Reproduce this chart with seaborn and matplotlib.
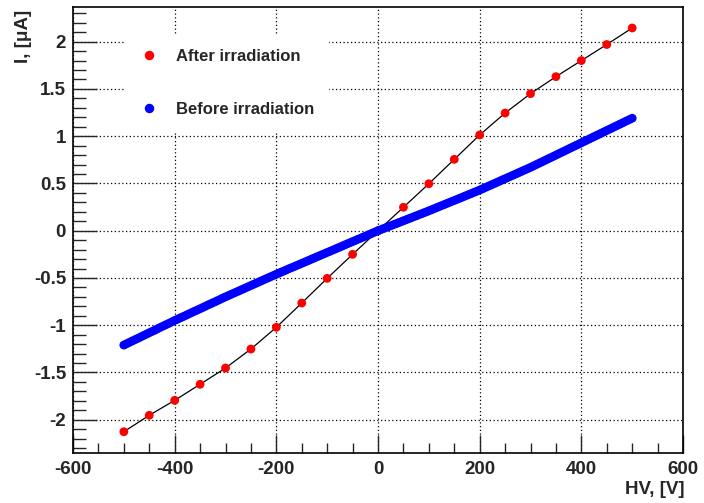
import matplotlib
matplotlib.use("Agg")
import matplotlib.pyplot as plt
import seaborn as sns
import pandas as pd
from matplotlib.lines import Line2D
from matplotlib.ticker import MultipleLocator, FuncFormatter

# ---- data ----
hv_after = [-500, -450, -400, -350, -300, -250, -200, -150, -100, -50, 0,
            50, 100, 150, 200, 250, 300, 350, 400, 450, 500]
i_after = [-2.127, -1.953, -1.795, -1.625, -1.453, -1.252, -1.022, -0.765, -0.504, -0.250, 0.0,
           0.248, 0.497, 0.755, 1.013, 1.245, 1.450, 1.630, 1.800, 1.970, 2.145]

hv_before = list(range(-500, 501, 5))
i_before = [
    -1.210, -1.197, -1.184, -1.171, -1.158, -1.145, -1.133, -1.119, -1.106, -1.093,
    -1.080, -1.067, -1.055, -1.041, -1.028, -1.015, -1.002, -0.989, -0.977, -0.963,
    -0.950, -0.938, -0.925, -0.913, -0.901, -0.888, -0.875, -0.862, -0.850, -0.838,
    -0.826, -0.813, -0.800, -0.787, -0.775, -0.763, -0.751, -0.738, -0.725, -0.712,
    -0.700, -0.688, -0.676, -0.664, -0.652, -0.640, -0.628, -0.616, -0.604, -0.592,
    -0.580, -0.568, -0.556, -0.544, -0.532, -0.520, -0.508, -0.496, -0.484, -0.472,
    -0.460, -0.449, -0.437, -0.426, -0.414, -0.402, -0.391, -0.380, -0.368, -0.357,
    -0.345, -0.334, -0.322, -0.311, -0.299, -0.288, -0.276, -0.265, -0.253, -0.242,
    -0.230, -0.219, -0.207, -0.196, -0.184, -0.173, -0.161, -0.150, -0.138, -0.127,
    -0.115, -0.104, -0.092, -0.081, -0.069, -0.058, -0.046, -0.035, -0.023, -0.012,
    0.000,
    0.010, 0.021, 0.031, 0.042, 0.052, 0.063, 0.073, 0.084, 0.094, 0.105,
    0.115, 0.126, 0.136, 0.147, 0.157, 0.168, 0.178, 0.189, 0.199, 0.210,
    0.221, 0.232, 0.243, 0.254, 0.265, 0.276, 0.287, 0.298, 0.309, 0.320,
    0.331, 0.342, 0.353, 0.364, 0.375, 0.386, 0.397, 0.408, 0.419, 0.430,
    0.442, 0.454, 0.466, 0.478, 0.490, 0.502, 0.514, 0.526, 0.538, 0.550,
    0.562, 0.574, 0.586, 0.598, 0.610, 0.622, 0.634, 0.646, 0.658, 0.670,
    0.683, 0.696, 0.709, 0.722, 0.735, 0.748, 0.761, 0.774, 0.787, 0.800,
    0.813, 0.826, 0.839, 0.852, 0.865, 0.878, 0.891, 0.904, 0.917, 0.930,
    0.943, 0.956, 0.969, 0.982, 0.995, 1.008, 1.021, 1.034, 1.047, 1.060,
    1.073, 1.086, 1.099, 1.112, 1.125, 1.138, 1.151, 1.164, 1.177, 1.190,
]

label_after = "After irradiation"
label_before = "Before irradiation"
xlabel = "HV, [V]"
ylabel = "I, [\u03bcA]"

df_after = pd.DataFrame({"hv": hv_after, "i": i_after})
df_before = pd.DataFrame({"hv": hv_before, "i": i_before})

sns.set_style("ticks")
plt.rcParams["font.family"] = ["Liberation Sans", "DejaVu Sans"]
plt.rcParams["font.weight"] = "bold"
plt.rcParams["axes.unicode_minus"] = False

fig = plt.figure(figsize=(7.04, 5.03), dpi=100)
ax = fig.add_axes([0.1037, 0.0994, 0.8665, 0.8867])

sns.lineplot(data=df_after, x="hv", y="i", ax=ax, color="black", linewidth=0.9,
             sort=True, estimator=None, zorder=3)
sns.scatterplot(data=df_after, x="hv", y="i", ax=ax, color="#ff0000", s=40,
                edgecolor="none", linewidth=0, zorder=4)
sns.scatterplot(data=df_before, x="hv", y="i", ax=ax, color="#0000ff", s=40,
                edgecolor="none", linewidth=0, zorder=5)

ax.set_xlim(-600, 600)
ax.set_ylim(-2.352, 2.367)
ax.xaxis.set_major_locator(MultipleLocator(200))
ax.xaxis.set_minor_locator(MultipleLocator(50))
ax.yaxis.set_major_locator(MultipleLocator(0.5))
ax.yaxis.set_minor_locator(MultipleLocator(0.1))
fmt = FuncFormatter(lambda v, p: "%g" % (round(v, 3) + 0.0))
ax.xaxis.set_major_formatter(fmt)
ax.yaxis.set_major_formatter(fmt)

ax.tick_params(axis="x", which="major", direction="in", length=13, width=1.0,
               labelsize=13.5, pad=6, top=False)
ax.tick_params(axis="x", which="minor", direction="in", length=7, width=1.0, top=False)
ax.tick_params(axis="y", which="major", direction="in", length=17, width=1.0,
               labelsize=13.5, pad=5, right=False)
ax.tick_params(axis="y", which="minor", direction="in", length=9, width=1.0, right=False)
for lab in ax.get_xticklabels() + ax.get_yticklabels():
    lab.set_fontweight("bold")

ax.grid(True, which="major", color="black", linestyle=(0, (1, 2)), linewidth=0.9)
ax.set_axisbelow(True)
for sp in ax.spines.values():
    sp.set_visible(True)
    sp.set_linewidth(1.2)
    sp.set_color("black")

ax.set_xlabel("")
ax.set_ylabel("")
fig.text(0.973, 0.026, xlabel, ha="right", va="center", fontsize=13.5, fontweight="bold")
fig.text(0.033, 0.980, ylabel, ha="center", va="top", rotation=90, fontsize=13.5,
         fontweight="bold")

handles = [Line2D([], [], marker="o", linestyle="none", color="#ff0000", markersize=5.8),
           Line2D([], [], marker="o", linestyle="none", color="#0000ff", markersize=5.8)]
leg = ax.legend(handles, [label_after, label_before], loc="upper left",
                bbox_to_anchor=(0.087, 0.940), frameon=True, fancybox=False,
                facecolor="white", edgecolor="none", framealpha=1.0,
                prop={"size": 12, "weight": "bold"}, labelspacing=2.3,
                handlelength=1.0, handletextpad=1.1, borderpad=0.9, borderaxespad=0)
leg.set_zorder(6)

fig.savefig("out.png", dpi=100)
